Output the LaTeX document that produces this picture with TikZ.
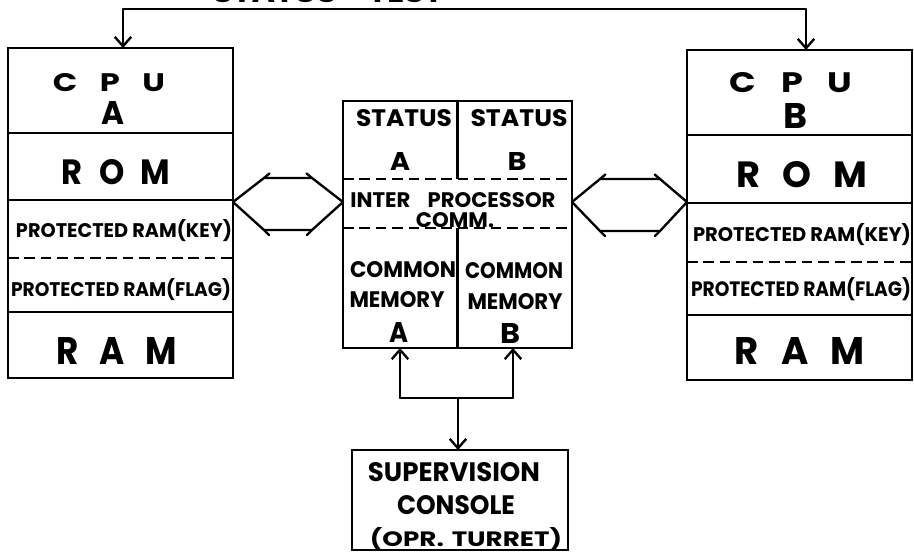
\documentclass[tikz,border=0pt]{standalone}
\usepackage{fontspec}
\setmainfont{Poppins}
\usepackage{graphicx}
\usetikzlibrary{arrows.meta}
\newlength\pxu
\setlength\pxu{0.03cm}
\newcommand\lbl[3]{\resizebox{#1\pxu}{#2\pxu}{#3}}
\tikzset{
  box/.style={draw, line width=2.2pt, inner sep=0pt, outer sep=0pt},
  sepline/.style={line width=2pt},
  dsep/.style={line width=2pt, dash pattern=on 9pt off 5pt},
  conn/.style={line width=2pt, line cap=round, line join=round},
  arr/.style={line width=2pt, -{Straight Barb[length=8pt,width=14pt,line width=2pt]}},
  txt/.style={inner sep=0pt, font=\bfseries}
}
\begin{document}
\begin{tikzpicture}[x=0.03cm,y=-0.03cm]
\useasboundingbox (0,0) rectangle (914,554);

% boxes
\node[box, minimum width=225\pxu, minimum height=330\pxu] (cpuA) at (120.5,213) {};
\node[box, minimum width=225\pxu, minimum height=330\pxu] (cpuB) at (799.5,215) {};
\node[box, minimum width=229\pxu, minimum height=247\pxu] (mid) at (457.5,224.5) {};
\node[box, minimum width=216\pxu, minimum height=100\pxu] (sup) at (460,500) {};

% left box partitions
\draw[sepline] (cpuA.west |- 0,133) -- (cpuA.east |- 0,133);
\draw[sepline] (cpuA.west |- 0,200) -- (cpuA.east |- 0,200);
\draw[dsep] (cpuA.west |- 0,258) -- (cpuA.east |- 0,258);
\draw[sepline] (cpuA.west |- 0,312) -- (cpuA.east |- 0,312);
% right box partitions
\draw[sepline] (cpuB.west |- 0,135) -- (cpuB.east |- 0,135);
\draw[sepline] (cpuB.west |- 0,203) -- (cpuB.east |- 0,203);
\draw[dsep] (cpuB.west |- 0,262) -- (cpuB.east |- 0,262);
\draw[sepline] (cpuB.west |- 0,315) -- (cpuB.east |- 0,315);
% centre box partitions
\draw[sepline] (mid.north) -- (mid.north |- 0,179);
\draw[sepline] (mid.south) -- (mid.south |- 0,228);
\draw[dsep] (mid.west |- 0,179) -- (mid.east |- 0,179);
\draw[dsep] (mid.west |- 0,228) -- (mid.east |- 0,228);

% left box texts
\node[txt] (ta1) at (109,83) {\lbl{112}{18}{C\hspace{.7em}P\hspace{.7em}U}};
\node[txt] (ta2) at (113,113) {\lbl{23}{23}{A}};
\node[txt] (ta3) at (116,172) {\lbl{108}{25}{R\hspace{.5em}O\hspace{.5em}M}};
\node[txt] (ta4) at (124,231) {\lbl{216}{18}{PROTECTED RAM(KEY)}};
\node[txt] (ta5) at (121,290) {\lbl{220}{18}{PROTECTED RAM(FLAG)}};
\node[txt] (ta6) at (117,351) {\lbl{120}{27}{R\hspace{.6em}A\hspace{.6em}M}};
% right box texts
\node[txt] (tb1) at (791,83) {\lbl{122}{20}{C\hspace{.7em}P\hspace{.7em}U}};
\node[txt] (tb2) at (795,116) {\lbl{24}{25}{B}};
\node[txt] (tb3) at (802,175) {\lbl{131}{26}{R\hspace{.6em}O\hspace{.6em}M}};
\node[txt] (tb4) at (802,235) {\lbl{218}{18}{PROTECTED RAM(KEY)}};
\node[txt] (tb5) at (801,289) {\lbl{220}{19}{PROTECTED RAM(FLAG)}};
\node[txt] (tb6) at (800,351) {\lbl{130}{27}{R\hspace{.6em}A\hspace{.6em}M}};
% centre texts
\node[txt] (sa) at (404,118) {\lbl{96}{17}{STATUS}};
\node[txt] (sb) at (519,118) {\lbl{97}{17}{STATUS}};
\node[txt] (sa2) at (400,161) {\lbl{20}{18}{A}};
\node[txt] (sb2) at (517,161) {\lbl{19}{18}{B}};
\node[txt] (ipc) at (453,200) {\lbl{205}{15}{INTER\hspace{.8em}PROCESSOR}};
\node[txt] (comm) at (455,220) {\lbl{78}{15}{COMM.}};
\node[txt] (ca1) at (403,270) {\lbl{106}{16}{COMMON}};
\node[txt] (cb1) at (514,271) {\lbl{98}{16}{COMMON}};
\node[txt] (ca2) at (397,300) {\lbl{95}{16}{MEMORY}};
\node[txt] (cb2) at (515,302) {\lbl{95}{16}{MEMORY}};
\node[txt] (ca3) at (399,332) {\lbl{19}{20}{A}};
\node[txt] (cb3) at (510,333) {\lbl{20}{20}{B}};
% supervision texts
\node[txt] (s1) at (454,472) {\lbl{172}{19}{SUPERVISION}};
\node[txt] (s2) at (456,505) {\lbl{118}{19}{CONSOLE}};
\node[txt] (s3) at (466,539) {\lbl{192}{19}{(OPR.\hspace{.3em}TURRET)}};

% top bus (its label is cut off at the page edge, as in the reference)
\node[txt, anchor=south] (toplbl) at (328,3) {\lbl{230}{18}{STATUS\hspace{1em}TEST}};
\coordinate (bl) at (123,9);
\coordinate (br) at (806,9);
\draw[conn] (bl) -- (br);
\draw[arr] (bl) -- (bl |- cpuA.north);
\draw[arr] (br) -- (br |- cpuB.north);

% left double arrow
\coordinate (hl1) at (cpuA.east |- 0,202);
\coordinate (hr1) at (mid.west |- 0,202);
\draw[conn] (hl1) -- (264,178) -- (312,178) -- (hr1) -- (312,230) -- (264,230) -- cycle;
\draw[conn] (264,178) -- (269.5,173.5);
\draw[conn] (312,178) -- (306.5,173.5);
\draw[conn] (264,230) -- (269,235);
\draw[conn] (312,230) -- (307,235);
% right double arrow
\coordinate (hl2) at (mid.east |- 0,202);
\coordinate (hr2) at (cpuB.west |- 0,202);
\draw[conn] (hl2) -- (600,179) -- (660,179) -- (hr2) -- (660,231) -- (600,231) -- cycle;
\draw[conn] (600,179) -- (605.4,174.5);
\draw[conn] (660,179) -- (654.7,174.5);
\draw[conn] (600,231) -- (605,236);
\draw[conn] (660,231) -- (655,236);

% bottom connectors
\coordinate (j1) at (400,398);
\coordinate (j2) at (513,398);
\coordinate (jm) at (458,398);
\draw[conn] (j1) -- (j2);
\draw[arr] (j1) -- (j1 |- mid.south);
\draw[arr] (j2) -- (j2 |- mid.south);
\draw[arr] (jm) -- (jm |- sup.north);
\end{tikzpicture}
\end{document}
